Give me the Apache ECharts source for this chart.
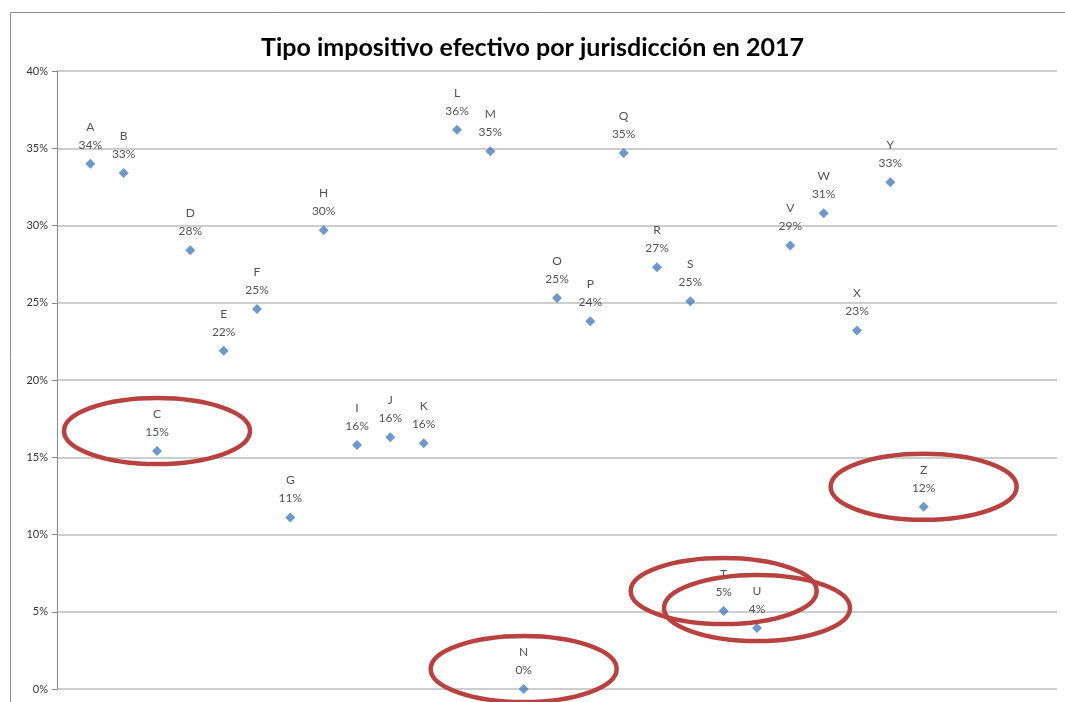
<!DOCTYPE html>
<html>
<head>
<meta charset="utf-8">
<script src="https://cdn.jsdelivr.net/npm/echarts@6/dist/echarts.min.js"></script>
<style>
  html, body { margin: 0; padding: 0; background: #fff; }
  #chart { width: 1065px; height: 702px; }
</style>
</head>
<body>
<div id="chart"></div>
<script>
// jurisdicciones y tipo efectivo (%)
const names = ['A','B','C','D','E','F','G','H','I','J','K','L','M','N','O','P','Q','R','S','T','U','V','W','X','Y','Z'];
const rates = [34.0, 33.4, 15.4, 28.4, 21.9, 24.6, 11.1, 29.7, 15.8, 16.3, 15.9, 36.2, 34.8, 0.0,
               25.3, 23.8, 34.7, 27.3, 25.1, 5.05, 3.95, 28.7, 30.8, 23.2, 32.8, 11.8];
// las que van marcadas con elipse roja
const circled = ['C', 'N', 'T', 'U', 'Z'];
const yTicks = [0, 5, 10, 15, 20, 25, 30, 35, 40];

const points = names.map((n, i) => ({ name: n, value: [i + 1, rates[i]] }));
const marks = points.filter(p => circled.includes(p.name));

const chart = echarts.init(document.getElementById('chart'));
chart.setOption({
  animation: false,
  textStyle: { fontFamily: 'Lato' },
  title: {
    text: 'Tipo impositivo efectivo por jurisdicción en 2017',
    left: 'center',
    top: 30,
    textStyle: { fontFamily: 'Lato', fontSize: 25, fontWeight: 'bold', color: '#000' }
  },
  graphic: [{
    type: 'rect',
    left: 8, top: 10,
    shape: { width: 1080, height: 720 },
    style: { fill: 'none', stroke: '#8c8c8c', lineWidth: 1 },
    silent: true
  }],
  grid: { left: 57, right: 8, top: 71, bottom: 13 },
  xAxis: {
    type: 'value',
    min: 0, max: 30,
    show: false
  },
  yAxis: {
    type: 'value',
    min: yTicks[0], max: yTicks[yTicks.length - 1], interval: 5,
    axisLine: { show: true, lineStyle: { color: '#8a8a8a' } },
    axisTick: { show: true, length: 5, lineStyle: { color: '#8a8a8a' } },
    axisLabel: { formatter: '{value}%', fontSize: 11, color: '#333', margin: 9 },
    splitLine: { lineStyle: { color: '#bdbdbd', width: 1.5 } }
  },
  series: [
    {
      type: 'scatter',
      symbol: 'diamond',
      symbolSize: 10,
      itemStyle: { color: '#4a7ebb' },
      data: points,
      label: {
        show: true,
        position: 'top',
        distance: 5,
        fontSize: 12,
        lineHeight: 18,
        color: '#262626',
        formatter: p => p.name + '\n' + Math.round(p.value[1]) + '%'
      }
    },
    {
      type: 'custom',
      clip: false,
      silent: true,
      data: marks,
      renderItem: (params, api) => {
        const pt = api.coord([api.value(0), api.value(1)]);
        return {
          type: 'ellipse',
          shape: { cx: pt[0], cy: pt[1] - 20, rx: 93, ry: 33 },
          style: { fill: 'none', stroke: '#b7423f', lineWidth: 4.5 }
        };
      },
      z: 5
    }
  ]
});
</script>
</body>
</html>
